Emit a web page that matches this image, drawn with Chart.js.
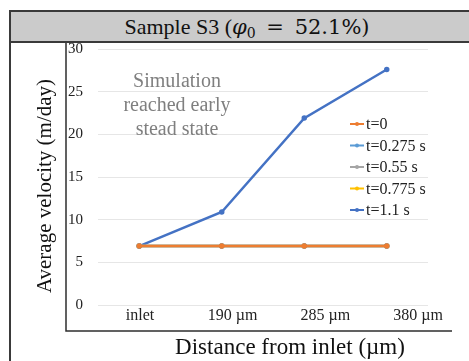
<!DOCTYPE html>
<html>
<head>
<meta charset="utf-8">
<script src="https://cdn.jsdelivr.net/npm/chart.js@4.4.1/dist/chart.umd.min.js"></script>
<style>
    html, body { margin: 0; padding: 0; background: #fff; }
    body { width: 469px; height: 361px; position: relative; overflow: hidden; }
    .frame {
        position: absolute; left: 9px; top: 10px; width: 470px; height: 360px;
        border-left: 2px solid #3a3a3a; border-top: 2px solid #3a3a3a;
    }
    .header {
        height: 29px; background: #cbcbcb; border-bottom: 2px solid #3a3a3a;
        font-family: "Liberation Serif", serif; font-size: 22px; color: #111;
        line-height: 29px; padding-left: 14px; text-align: center; width: 444px;
    }
    .header .m { font-family: "DejaVu Serif", serif; font-size: 21px; }
    .header .eq { margin: 0 4px; }
    .header sub { font-size: 14px; vertical-align: -4px; line-height: 0; }
    #chart { position: absolute; left: 0; top: 0; }
</style>
</head>
<body>
<div class="frame">
    <div class="header">Sample S3 (<span class="m"><i>φ</i><sub>0</sub> <span class="eq">=</span> 52.1%)</span></div>
</div>
<canvas id="chart" width="469" height="361"></canvas>
<script>
// Data
const categories = ['inlet', '190 µm', '285 µm', '380 µm'];
const seriesNames = ['t=0', 't=0.275 s', 't=0.55 s', 't=0.775 s', 't=1.1 s'];
const seriesColors = ['#ed7d31', '#5b9bd5', '#a5a5a5', '#ffc000', '#4472c4'];
const t0 = [6.9, 6.9, 6.9, 6.9];
const t0275 = [6.9, 6.9, 6.9, 6.9];
const t055 = [6.9, 6.9, 6.9, 6.9];
const t0775 = [6.9, 6.9, 6.9, 6.9];
const t11 = [6.9, 10.9, 21.9, 27.6];
const yTicks = [0, 5, 10, 15, 20, 25, 30];
const noteLines = ['Simulation', 'reached early', 'stead state'];

const serif = '"Liberation Serif", "Times New Roman", serif';
const seriesValues = [t0, t0275, t055, t0775, t11];

// Frame, titles, note and legend drawn around the plot
const decorPlugin = {
    id: 'decor',
    afterDraw(chart) {
        const ctx = chart.ctx;
        const area = chart.chartArea;
        const axisX = area.left - 32;
        const axisY = area.bottom + 26;
        ctx.save();

        // axis box lines
        ctx.strokeStyle = '#2e2e2e';
        ctx.lineWidth = 1.5;
        ctx.beginPath();
        ctx.moveTo(axisX, area.top - 6);
        ctx.lineTo(axisX, axisY);
        ctx.lineTo(area.right + 24, axisY);
        ctx.stroke();

        // y title
        ctx.fillStyle = '#111';
        ctx.font = '21px ' + serif;
        ctx.textAlign = 'center';
        ctx.textBaseline = 'middle';
        ctx.save();
        ctx.translate(axisX - 21, (area.top + axisY) / 2 - 4);
        ctx.rotate(-Math.PI / 2);
        ctx.fillText('Average velocity (m/day)', 0, 0);
        ctx.restore();

        // x title
        ctx.font = '23px ' + serif;
        ctx.fillText('Distance from inlet (µm)', (axisX + area.right + 24) / 2 + 31, axisY + 17);

        // note
        ctx.fillStyle = '#7f7f7f';
        ctx.font = '20px ' + serif;
        noteLines.forEach((line, i) => {
            ctx.fillText(line, area.left + 79, area.top + 33 + i * 24);
        });

        // legend
        ctx.font = '16px ' + serif;
        ctx.textAlign = 'left';
        chart.data.datasets.forEach((ds, i) => {
            const y = area.top + 75 + i * 21.5;
            const x0 = area.left + 252;
            ctx.strokeStyle = ds.borderColor;
            ctx.lineWidth = 2;
            ctx.beginPath();
            ctx.moveTo(x0, y);
            ctx.lineTo(x0 + 14, y);
            ctx.stroke();
            ctx.fillStyle = ds.borderColor;
            ctx.beginPath();
            ctx.arc(x0 + 7, y, 2, 0, Math.PI * 2);
            ctx.fill();
            ctx.fillStyle = '#222';
            ctx.fillText(ds.label, x0 + 16, y + 1);
        });
        ctx.restore();
    }
};

new Chart(document.getElementById('chart'), {
    type: 'line',
    data: {
        labels: categories,
        datasets: seriesNames.map((name, i) => ({
            label: name,
            data: seriesValues[i],
            borderColor: seriesColors[i],
            backgroundColor: seriesColors[i],
            borderWidth: 2.5,
            pointRadius: 1.5,
            pointHoverRadius: 1.5,
            tension: 0,
            fill: false
        }))
    },
    options: {
        responsive: false,
        animation: false,
        events: [],
        layout: {
            padding: { left: 66, right: 41, top: 49, bottom: 30 }
        },
        plugins: {
            legend: { display: false },
            tooltip: { enabled: false }
        },
        scales: {
            x: {
                type: 'category',
                offset: true,
                display: false
            },
            xl: {
                type: 'linear',
                position: 'bottom',
                min: -0.453,
                max: 3.108,
                grid: { display: false, drawTicks: false },
                border: { display: false },
                afterBuildTicks: (scale) => {
                    scale.ticks = categories.map((c, i) => ({ value: i }));
                },
                afterFit: (scale) => { scale.height = 26; },
                ticks: {
                    padding: 1,
                    maxRotation: 0,
                    autoSkip: false,
                    color: '#222',
                    font: { family: serif, size: 16 },
                    callback: (value) => categories[value] ?? ''
                }
            },
            y: {
                min: 0,
                max: 30,
                afterBuildTicks: (scale) => {
                    scale.ticks = yTicks.map(v => ({ value: v }));
                },
                afterFit: (scale) => { scale.width = 32; },
                grid: {
                    color: '#e6e6e6',
                    lineWidth: 1,
                    drawTicks: false
                },
                border: { display: false },
                ticks: {
                    padding: 15,
                    color: '#222',
                    font: { family: serif, size: 15 }
                }
            }
        }
    },
    plugins: [decorPlugin]
});
</script>
</body>
</html>
